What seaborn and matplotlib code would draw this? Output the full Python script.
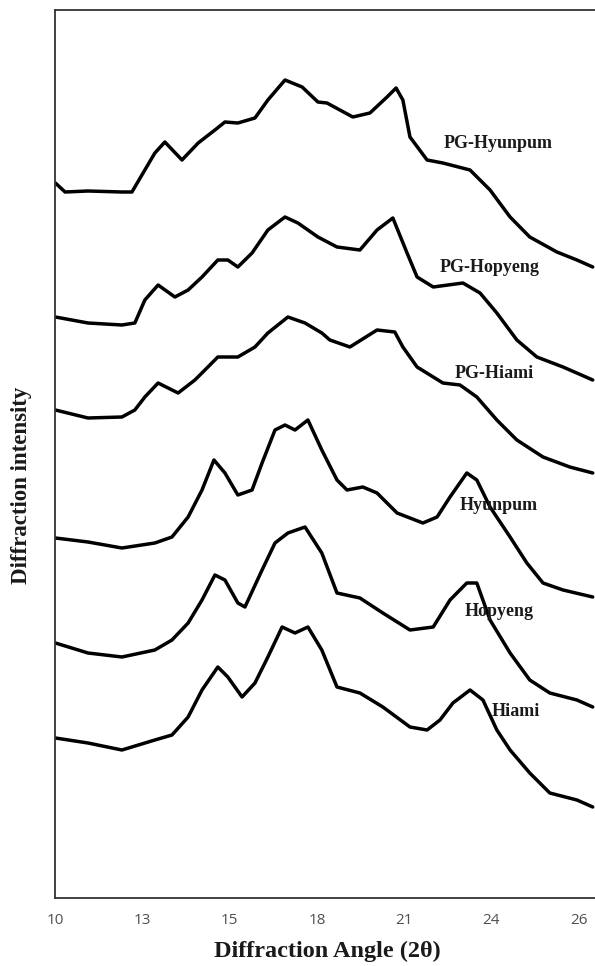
import matplotlib
matplotlib.use("Agg")
import matplotlib.pyplot as plt
import seaborn as sns
import pandas as pd

# XRD patterns (intensity in arbitrary units, stacked)
pg_hyunpum_x = [10.0, 10.3, 11.01, 12.06, 12.37, 12.77, 13.08, 13.39, 13.92, 14.42, 14.94, 15.25,
                15.65, 16.18, 16.58, 17.11, 17.64, 18.13, 18.41, 19.21, 19.74, 20.27, 20.55, 20.76,
                20.98, 21.51, 22.0, 22.84, 23.46, 24.08, 24.69, 25.53, 26.15, 26.64]
pg_hyunpum_y = [717, 708, 709, 708, 708, 730, 747, 758, 740, 757, 770, 778,
                777, 782, 800, 820, 813, 798, 797, 783, 787, 803, 812, 800,
                763, 740, 737, 730, 710, 683, 663, 648, 640, 633]

pg_hopyeng_x = [10.0, 11.01, 12.06, 12.46, 12.77, 13.18, 13.70, 14.11, 14.54, 15.03, 15.34, 15.65,
                16.09, 16.58, 17.11, 17.51, 18.13, 18.72, 19.43, 19.96, 20.45, 20.89, 21.20, 21.70,
                22.62, 23.15, 23.67, 24.29, 24.91, 25.72, 26.64]
pg_hopyeng_y = [583, 577, 575, 577, 600, 615, 603, 610, 623, 640, 640, 633,
                647, 670, 683, 677, 663, 653, 650, 670, 682, 647, 623, 613,
                617, 607, 587, 560, 543, 533, 520]

pg_hiami_x = [10.0, 11.01, 12.06, 12.46, 12.77, 13.18, 13.80, 14.32, 14.63, 15.03, 15.65, 16.18,
              16.58, 17.20, 17.73, 18.25, 18.50, 19.12, 19.96, 20.51, 20.76, 21.20, 22.0, 22.53,
              23.05, 23.67, 24.29, 25.10, 25.93, 26.64]
pg_hiami_y = [490, 482, 483, 490, 503, 517, 507, 520, 530, 543, 543, 553,
              567, 583, 577, 567, 560, 553, 570, 568, 553, 533, 517, 515,
              503, 480, 460, 443, 433, 427]

hyunpum_x = [10.0, 11.01, 12.06, 13.08, 13.61, 14.11, 14.54, 14.91, 15.25, 15.65, 16.09, 16.40,
             16.80, 17.11, 17.42, 17.82, 18.25, 18.72, 19.03, 19.52, 19.96, 20.58, 21.38, 21.82,
             22.22, 22.74, 23.05, 23.46, 24.08, 24.60, 25.10, 25.72, 26.64]
hyunpum_y = [362, 358, 352, 357, 363, 383, 410, 440, 427, 405, 410, 437,
             470, 475, 470, 480, 450, 420, 410, 413, 407, 387, 377, 383,
             403, 427, 420, 393, 363, 337, 317, 310, 303]

hopyeng_x = [10.0, 11.01, 12.06, 13.08, 13.61, 14.11, 14.54, 14.94, 15.25, 15.65, 15.87, 16.40,
             16.80, 17.20, 17.73, 18.25, 18.72, 19.43, 20.14, 20.98, 21.70, 22.22, 22.74, 23.05,
             23.46, 24.08, 24.69, 25.31, 26.15, 26.64]
hopyeng_y = [257, 247, 243, 250, 260, 277, 300, 325, 320, 297, 293, 330,
             357, 367, 373, 347, 307, 302, 287, 270, 273, 300, 317, 317,
             280, 247, 220, 207, 200, 193]

hiami_x = [10.0, 11.01, 12.06, 13.08, 13.61, 14.11, 14.54, 15.03, 15.34, 15.78, 16.18, 16.58,
           17.02, 17.42, 17.82, 18.25, 18.72, 19.43, 20.14, 20.98, 21.51, 21.91, 22.31, 22.84,
           23.24, 23.67, 24.08, 24.69, 25.31, 26.15, 26.64]
hiami_y = [162, 157, 150, 160, 165, 183, 210, 233, 223, 203, 217, 243,
           273, 267, 273, 250, 213, 207, 193, 173, 170, 180, 197, 210,
           200, 170, 150, 127, 107, 100, 93]

samples = ["PG-Hyunpum", "PG-Hopyeng", "PG-Hiami", "Hyunpum", "Hopyeng", "Hiami"]
tick_pos = [10.0, 12.7, 15.4, 18.1, 20.8, 23.5, 26.2]
tick_labels = ["10", "13", "15", "18", "21", "24", "26"]

series = [
    (pg_hyunpum_x, pg_hyunpum_y),
    (pg_hopyeng_x, pg_hopyeng_y),
    (pg_hiami_x, pg_hiami_y),
    (hyunpum_x, hyunpum_y),
    (hopyeng_x, hopyeng_y),
    (hiami_x, hiami_y),
]
frames = []
for name, (xs, ys) in zip(samples, series):
    frames.append(pd.DataFrame({"angle": xs, "intensity": ys, "sample": name}))
df = pd.concat(frames, ignore_index=True)

sns.set_style("white")
plt.rcParams["font.family"] = ["DejaVu Sans"]

fig = plt.figure(figsize=(5.95, 9.66), dpi=100)
ax = fig.add_axes([55.4 / 595, 68 / 966, 1 - 55.4 / 595, 888 / 966])

sns.lineplot(
    data=df,
    x="angle",
    y="intensity",
    hue="sample",
    palette=["black"] * len(samples),
    linewidth=2.5,
    legend=False,
    sort=False,
    estimator=None,
    ax=ax,
)
for line in ax.get_lines():
    line.set_solid_joinstyle("round")

# label positions next to each trace
label_pos = {
    "PG-Hyunpum": (22.03, 757),
    "PG-Hopyeng": (21.91, 632),
    "PG-Hiami": (22.37, 527),
    "Hyunpum": (22.52, 395),
    "Hopyeng": (22.68, 288),
    "Hiami": (23.52, 188),
}
for name in samples:
    lx, ly = label_pos[name]
    ax.text(lx, ly, name, fontsize=13, fontweight="bold", family="Liberation Serif",
            ha="left", va="center", color="#1a1a1a")

ax.set_xlim(10, 26.71)
ax.set_ylim(2, 890)
ax.set_xticks(tick_pos)
ax.set_xticklabels(tick_labels, fontsize=11, color="#505050", family="Open Sans")
ax.set_yticks([])
ax.set_xlabel("")
ax.set_ylabel("")
ax.tick_params(axis="x", direction="in", length=5, width=1.2, color="#404040", pad=11)

for side in ["left", "bottom", "top"]:
    ax.spines[side].set_color("#333333")
    ax.spines[side].set_linewidth(1.3)
ax.spines["right"].set_visible(False)

fig.text(327 / 595, 1 - 951 / 966, "Diffraction Angle (2θ)", fontsize=17.5, fontweight="bold",
         family="Liberation Serif", ha="center", va="center", color="#1a1a1a")
fig.text(22 / 595, 1 - 485 / 966, "Diffraction intensity", fontsize=16.5, fontweight="bold",
         family="Liberation Serif", ha="center", va="center", rotation=90, color="#1a1a1a")

fig.savefig("out.png", dpi=100)
